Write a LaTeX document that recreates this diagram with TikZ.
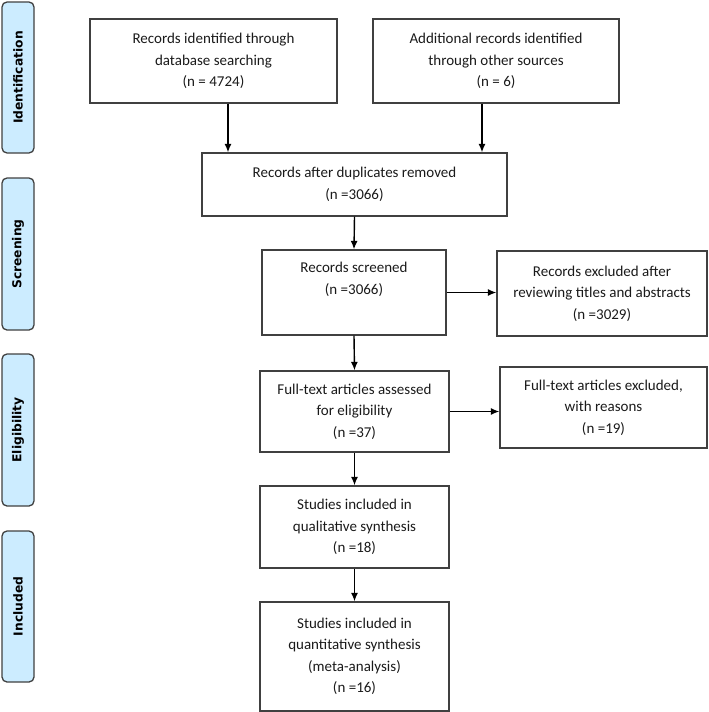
\documentclass[tikz,border=0pt]{standalone}
\usepackage{fontspec}
\setmainfont{Carlito}
\newfontfamily\labfont{DejaVu Sans}
\usetikzlibrary{arrows.meta}
\definecolor{phasefill}{HTML}{CCECFF}
\definecolor{boxline}{HTML}{404040}
\definecolor{boxtext}{HTML}{1A1A1A}

\begin{document}
\begin{tikzpicture}[x=1pt,y=-1pt,
    box/.style={draw=boxline,line width=1.3pt,align=center,
      inner sep=0pt,text=boxtext,
      font=\fontsize{15}{21.5}\selectfont},
    phaselab/.style={draw=boxline,fill=phasefill,rounded corners=5pt,
      line width=1.3pt,rotate=90,minimum height=32pt,inner sep=0pt,
      font=\labfont\bfseries\fontsize{12.3}{14}\selectfont},
    arr/.style={-{Latex[length=8.5pt,width=7pt]},line width=1.4pt}]

\useasboundingbox (0,0) rectangle (709,712);

% phase labels
\node[phaselab,minimum width=151pt] at (18,77.5) (idLab)
     {Identification};
\node[phaselab,minimum width=152pt] at (18,254) (scrLab)
     {Screening};
\node[phaselab,minimum width=152pt] at (18,430) (eliLab)
     {Eligibility};
\node[phaselab,minimum width=151pt] at (18,606.5) (incLab)
     {Included};

% boxes
\node[box,minimum width=247pt,minimum height=84pt]
     at (213.5,61) (dbBox)
     {Records identified through\\database searching\\(n = 4724)};
\node[box,minimum width=246pt,minimum height=84pt]
     at (496,61) (otherBox)
     {Additional records identified\\through other sources\\(n = 6)};
\node[box,minimum width=305pt,minimum height=63pt]
     at (354.5,184.5) (dupBox)
     {Records after duplicates removed\\(n =3066)};
\node[box,minimum width=184pt,minimum height=85pt]
     at (354,292.5) (scrBox)
     {Records screened\\(n =3066)\\ \strut};
\node[box,minimum width=210pt,minimum height=85pt]
     at (602,293.5) (exclBox)
     {Records excluded after\\reviewing titles and abstracts\\(n =3029)};
\node[box,minimum width=189pt,minimum height=81pt]
     at (354.5,411.5) (ftBox)
     {Full-text articles assessed\\for eligibility\\(n =37)};
\node[box,minimum width=207pt,minimum height=81pt]
     at (603.5,407.5) (ftExBox)
     {Full-text articles excluded,\\with reasons\\(n =19)};
\node[box,minimum width=189pt,minimum height=82pt]
     at (354.5,527) (qualBox)
     {Studies included in\\qualitative synthesis\\(n =18)};
\node[box,minimum width=189pt,minimum height=109pt]
     at (354.5,656.5) (quantBox)
     {Studies included in\\quantitative synthesis\\(meta-analysis)\\(n =16)};

% arrows
\coordinate (dbOut) at ([xshift=14.5pt]dbBox.south);
\coordinate (otherOut) at ([xshift=-14pt]otherBox.south);
\draw[arr] (dbOut) -- (dbOut |- dupBox.north);
\draw[arr] (otherOut) -- (otherOut |- dupBox.north);
\draw[arr] (dupBox.south) -- (scrBox.north);
\draw[arr] (scrBox.east) -- (scrBox.east -| exclBox.west);
\draw[arr] (scrBox.south) -- (ftBox.north);
\draw[arr] (ftBox.east) -- (ftBox.east -| ftExBox.west);
\draw[arr] (ftBox.south) -- (qualBox.north);
\draw[arr] (qualBox.south) -- (quantBox.north);

\end{tikzpicture}
\end{document}
